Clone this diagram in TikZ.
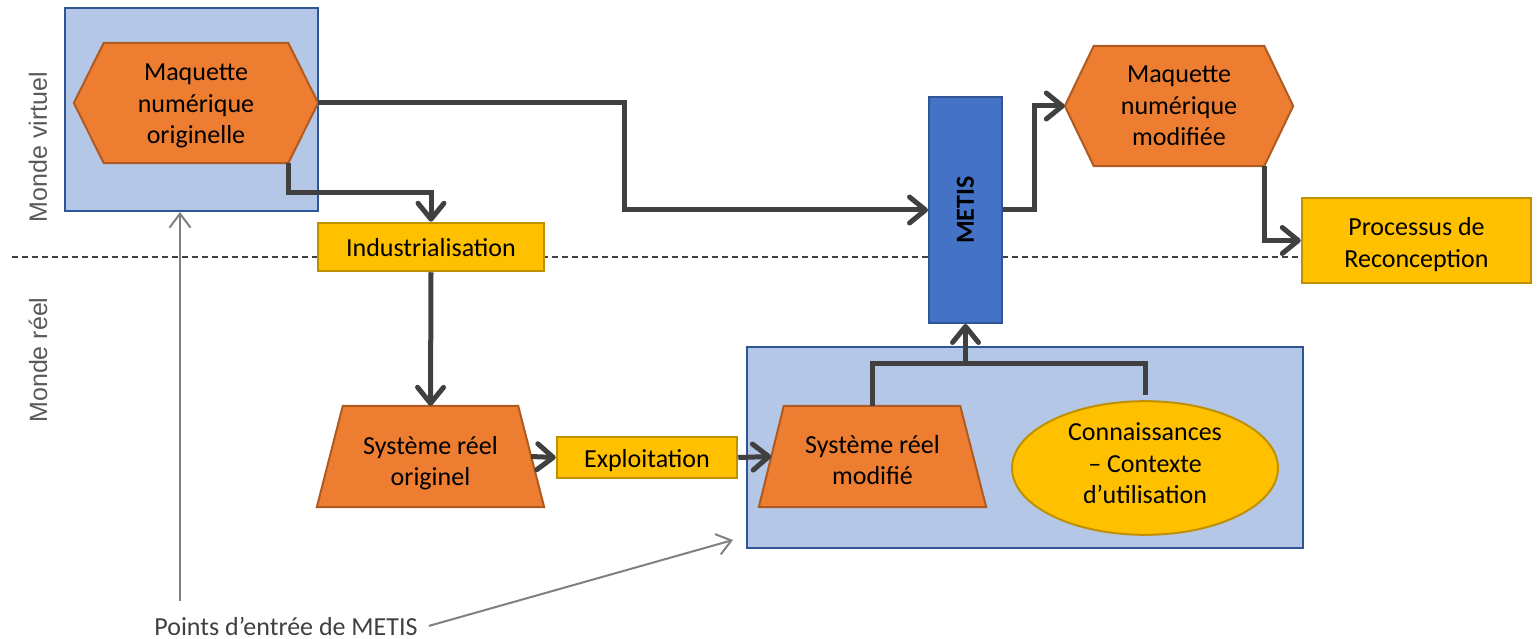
\documentclass[tikz,border=0pt]{standalone}
\usepackage{fontspec}
\setmainfont{Carlito}
\newfontfamily\labfont{Liberation Sans}
\usetikzlibrary{arrows.meta,shapes.geometric,calc}
\definecolor{orf}{HTML}{ED7D31}
\definecolor{ord}{HTML}{AE5A21}
\definecolor{yef}{HTML}{FFC000}
\definecolor{yed}{HTML}{BF9000}
\definecolor{lbf}{HTML}{B4C7E7}
\definecolor{lbd}{HTML}{2F5597}
\definecolor{mbf}{HTML}{4472C4}
\definecolor{cdk}{HTML}{404040}
\definecolor{cgr}{HTML}{808080}
\definecolor{lgr}{HTML}{595959}
\newcommand\shtext[2]{\raisebox{#1}[\height][\depth]{\begin{tabular}{@{}c@{}}#2\end{tabular}}}
\pgfdeclarelayer{bg}\pgfdeclarelayer{mid}\pgfsetlayers{bg,mid,main}
\begin{document}
\begin{tikzpicture}[x=1pt,y=-1pt,
  txt/.style={font=\fontsize{26}{31.5}\selectfont, align=center, inner sep=0pt},
  frame/.style={draw=lbd, fill=lbf, line width=2pt, inner sep=0pt},
  ybox/.style={txt, draw=yed, fill=yef, line width=2.5pt},
  orshape/.style={draw=ord, fill=orf, line width=2pt},
  conn/.style={draw=cdk, line width=5pt, -{Straight Barb[length=16pt,width=26pt,round]}},
  link/.style={draw=cdk, line width=5pt},
  gar/.style={draw=cgr, line width=2pt, -{Straight Barb[length=14pt,width=21pt]}},
  sepline/.style={draw=cdk, line width=1.5pt, dash pattern=on 6pt off 4pt},
  side/.style={font=\labfont\fontsize{25}{30}\selectfont, text=lgr, rotate=90, inner sep=0pt}]
\useasboundingbox (0,0) rectangle (1539,639);

% frames (background)
\begin{pgfonlayer}{bg}
\node[frame, minimum width=253pt, minimum height=203pt] (vbox) at (191.5,109.5) {};
\node[frame, minimum width=556pt, minimum height=201pt] (rbox) at (1024.5,447.5) {};
\end{pgfonlayer}

% side labels
\node[side] (mv) at (38,147) {Monde virtuel};
\node[side] (mr) at (38,360) {Monde réel};

% text-carrying nodes
\node[txt, minimum width=244pt, minimum height=120pt] (h1) at (196,103) {\shtext{-3pt}{Maquette\\numérique\\originelle}};
\node[txt, minimum width=228pt, minimum height=120pt] (h2) at (1179,106) {\shtext{-2pt}{Maquette\\numérique\\modifiée}};
\node[txt, minimum width=227pt, minimum height=101pt] (t1) at (430.5,456.5) {\shtext{-7pt}{Système réel\\originel}};
\node[txt, minimum width=227pt, minimum height=101pt] (t2) at (872.5,456.5) {\shtext{-6pt}{Système réel\\modifié}};

\begin{pgfonlayer}{mid}
\path[orshape] (h1.west) -- ([xshift=30pt]h1.north west) -- ([xshift=-30pt]h1.north east) -- (h1.east) -- ([xshift=-30pt]h1.south east) -- ([xshift=30pt]h1.south west) -- cycle;
\path[orshape] (h2.west) -- ([xshift=29pt]h2.north west) -- ([xshift=-29pt]h2.north east) -- (h2.east) -- ([xshift=-29pt]h2.south east) -- ([xshift=29pt]h2.south west) -- cycle;
\path[orshape] (t1.south west) -- ([xshift=26pt]t1.north west) -- ([xshift=-26pt]t1.north east) -- (t1.south east) -- cycle;
\path[orshape] (t2.south west) -- ([xshift=25pt]t2.north west) -- ([xshift=-26pt]t2.north east) -- (t2.south east) -- cycle;
% separator
\coordinate (dl) at (12,257);
\draw[sepline] (dl) -- (dl -| 1302,0);
\end{pgfonlayer}

\node[ybox, minimum width=226pt, minimum height=48pt] (ind) at (431,247) {\shtext{-3pt}{Industrialisation}};
\node[ybox, minimum width=180pt, minimum height=41pt] (expl) at (647,457.5) {\shtext{-4pt}{Exploitation}};
\node[ybox, minimum width=229pt, minimum height=85pt] (proc) at (1416.5,240.5) {\shtext{-4.5pt}{Processus de\\Reconception}};
\node[txt, ellipse, draw=yed, fill=yef, line width=2pt, minimum width=266pt, minimum height=115pt] (ell) at (1145,468) {\shtext{2pt}{Connaissances\\– Contexte\\d’utilisation}};
\node[draw=lbd, fill=mbf, line width=2pt, inner sep=0pt, minimum width=73pt, minimum height=226pt,
      font=\fontsize{26}{31.5}\selectfont\bfseries] (metis) at (965.5,210) {\rotatebox{90}{METIS}};

\node[txt, text=cdk, anchor=base] (pts) at (286,635) {Points d’entrée de METIS};

% connectors
\coordinate (c1) at (624,103);
\draw[conn] (h1.east) -- (c1) |- (metis.west);
\draw[conn] ([xshift=-30pt]h1.south east) -- ++(0,29) -| (ind.north);
\draw[conn] (ind.south) -- (t1.north);
\draw[conn] ([xshift=-13pt]t1.east) -- (expl.west);
\draw[conn] (expl.east) -- ([xshift=12.5pt]t2.west);
\coordinate (jn) at (965.5,363);
\draw[link] (t2.north) |- (jn) -| ([yshift=5pt]ell.north);
\draw[conn] (jn) -- (metis.south);
\draw[conn] (metis.east) -- ++(31,0) |- (h2.west);
\draw[conn] ([xshift=-29pt]h2.south east) |- (proc.west);

% entry-point pointers
\coordinate (g1) at (180,601);
\draw[gar] (g1) -- (g1 |- vbox.south);
\coordinate (g2) at (733,540);
\draw[gar] ([xshift=11pt]pts.east) -- (g2);
\end{tikzpicture}
\end{document}
